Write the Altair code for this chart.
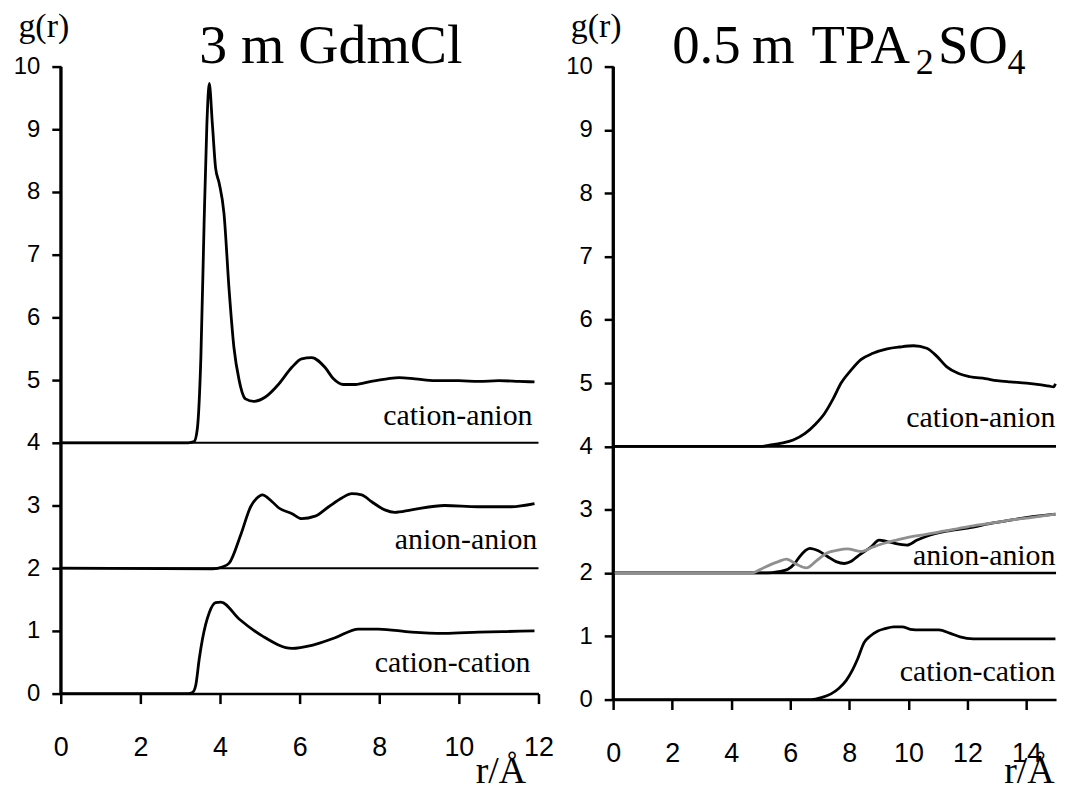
import altair as alt
import pandas as pd

# ---------------- Left panel: 3 m GdmCl ----------------
L_ca_r = [0, 3.2, 3.35, 3.43, 3.52, 3.6, 3.67, 3.73, 3.81, 3.89, 3.98, 4.1, 4.23, 4.35, 4.48, 4.64, 4.85, 5.14, 5.48, 5.8, 6.05, 6.3, 6.64, 6.85, 7.1, 7.4, 7.8, 8.2, 8.5, 8.9, 9.4, 10.0, 10.5, 11.0, 11.5, 11.9]
L_ca_g = [4, 4.0, 4.02, 4.22, 5.37, 7.48, 9.07, 9.73, 9.07, 8.38, 8.14, 7.66, 6.43, 5.52, 5.0, 4.7, 4.66, 4.73, 4.94, 5.2, 5.34, 5.36, 5.2, 5.02, 4.93, 4.93, 4.98, 5.02, 5.04, 5.02, 4.99, 4.99, 4.98, 4.99, 4.98, 4.97]

L_aa_r = [0, 3.81, 4.06, 4.23, 4.52, 4.77, 4.93, 5.06, 5.31, 5.48, 5.81, 6.05, 6.39, 6.73, 7.06, 7.31, 7.56, 7.81, 8.14, 8.39, 8.81, 9.64, 10.48, 11.31, 11.9]
L_aa_g = [2, 1.99, 2.02, 2.08, 2.53, 2.98, 3.12, 3.17, 3.06, 2.96, 2.87, 2.79, 2.83, 2.98, 3.12, 3.19, 3.17, 3.06, 2.93, 2.89, 2.93, 3.0, 2.98, 2.98, 3.03]

L_cc_r = [0, 3.2, 3.31, 3.39, 3.48, 3.56, 3.73, 3.89, 4.02, 4.48, 5.06, 5.81, 6.31, 6.89, 7.48, 7.98, 8.81, 9.64, 10.5, 11.2, 11.9]
L_cc_g = [0, 0.0, 0.02, 0.13, 0.56, 0.87, 1.29, 1.45, 1.46, 1.19, 0.92, 0.72, 0.77, 0.89, 1.03, 1.03, 0.98, 0.96, 0.98, 0.99, 1.0]

# ---------------- Right panel: 0.5 m TPA2SO4 ----------------
R_ca_r = [0, 5.0, 5.3, 5.7, 6.1, 6.49, 6.85, 7.16, 7.45, 7.72, 8.05, 8.39, 8.8, 9.28, 9.7, 10.18, 10.62, 10.95, 11.29, 11.7, 12.09, 12.6, 13.0, 13.44, 14.0, 14.5, 14.78, 14.92, 14.98]
R_ca_g = [4, 4.0, 4.02, 4.05, 4.1, 4.2, 4.35, 4.52, 4.75, 5.0, 5.2, 5.37, 5.47, 5.54, 5.57, 5.59, 5.55, 5.43, 5.26, 5.15, 5.1, 5.07, 5.04, 5.02, 5.0, 4.97, 4.95, 4.94, 4.99]

R_aa1_r = [0, 5.24, 5.6, 5.92, 6.15, 6.32, 6.5, 6.66, 6.95, 7.26, 7.55, 7.83, 8.05, 8.27, 8.73, 9.01, 9.25, 9.51, 9.95, 10.3, 10.62, 11.29, 12.0, 12.87, 13.5, 14.2, 14.98]
R_aa1_g = [2, 2.0, 2.02, 2.06, 2.15, 2.26, 2.35, 2.39, 2.35, 2.26, 2.18, 2.15, 2.18, 2.26, 2.41, 2.52, 2.5, 2.47, 2.44, 2.52, 2.58, 2.66, 2.71, 2.79, 2.84, 2.89, 2.93]

R_aa2_r = [0, 4.7, 5.0, 5.37, 5.6, 5.87, 6.2, 6.54, 6.9, 7.26, 7.6, 7.93, 8.39, 8.8, 9.18, 9.6, 10.07, 10.6, 11.19, 12.0, 12.87, 13.5, 14.2, 14.98]
R_aa2_g = [2, 2.0, 2.06, 2.14, 2.18, 2.22, 2.14, 2.08, 2.2, 2.32, 2.36, 2.38, 2.34, 2.41, 2.47, 2.52, 2.57, 2.61, 2.66, 2.73, 2.79, 2.84, 2.88, 2.93]

R_cc_r = [0, 6.71, 7.05, 7.38, 7.65, 7.89, 8.1, 8.28, 8.5, 8.7, 8.95, 9.2, 9.51, 9.79, 10.07, 10.41, 11.03, 11.4, 11.75, 12.2, 13.0, 14.0, 14.98]
R_cc_g = [0, 0.0, 0.03, 0.09, 0.18, 0.3, 0.46, 0.64, 0.9, 1.0, 1.08, 1.12, 1.15, 1.15, 1.11, 1.1, 1.1, 1.05, 0.99, 0.96, 0.96, 0.96, 0.96]

pair_labels = ["cation-anion", "anion-anion", "cation-cation"]
L_label_x = [11.85, 11.97, 11.8]
L_label_y = [4.29, 2.31, 0.35]
R_label_x = [14.98, 14.98, 14.98]
R_label_y = [4.31, 2.13, 0.30]

# title pieces (text, x in data units, baseline y in data units, font size)
L_title = {"t": ["3 m GdmCl"], "x": [3.48], "y": [10.05], "fs": [56]}
R_title = {"t": ["0.5", "m", "TPA", "2", "SO", "4"],
           "x": [2.0, 4.7, 6.72, 10.25, 11.0, 13.36],
           "y": [10.06, 10.06, 10.06, 9.88, 10.06, 9.88],
           "fs": [55, 55, 55, 36, 55, 36]}

baselines = [4, 2]
y_ticks = list(range(0, 11))
L_x_ticks = [0, 2, 4, 6, 8, 10, 12]
R_x_ticks = [0, 2, 4, 6, 8, 10, 12, 14]

SERIF = "Liberation Serif"
SANS = "Liberation Sans"


def panel(black_parts, gray_part, xmax, width, height, xticks, lab_x, lab_y, base_widths,
          titles, rtitle_x, rtitle_y):
    xs = alt.Scale(domain=[0, xmax], nice=False, zero=False)
    ys = alt.Scale(domain=[0, 10], nice=False)
    common = dict(domain=True, domainColor="black", domainWidth=2.5, ticks=True,
                  tickColor="black", tickWidth=2.5, labelColor="black", labelFont=SANS,
                  labelFlush=False, labelOverlap=False, grid=False, format="d",
                  titleFont=SERIF, titleFontWeight="normal", titleColor="black")
    xax = alt.Axis(values=xticks, title="r/Å", titleFontSize=38,
                   titleAlign="right", titleAnchor="end", titleBaseline="alphabetic",
                   titleX=rtitle_x, titleY=rtitle_y,
                   labelFontSize=27, labelPadding=31, tickSize=10, **common)
    yax = alt.Axis(values=y_ticks, title="g(r)", titleFontSize=34,
                   titleAngle=0, titleAlign="left", titleBaseline="alphabetic",
                   titleX=-43, titleY=-30,
                   labelFontSize=24, labelPadding=12, tickSize=9, **common)

    X = lambda f: alt.X(f, scale=xs, axis=xax)
    Y = lambda f: alt.Y(f, scale=ys, axis=yax)

    bl = pd.DataFrame({"y": baselines, "x0": [0, 0], "x1": [xmax, xmax], "w": base_widths})
    rules = alt.Chart(bl).mark_rule(color="black").encode(
        x=X("x0:Q"), x2="x1:Q", y=Y("y:Q"),
        strokeWidth=alt.StrokeWidth("w:Q", scale=None),
    )
    ax = pd.DataFrame({"x": [0], "y0": [0], "y1": [10]})
    yline = alt.Chart(ax).mark_rule(color="black", strokeWidth=3).encode(
        x=X("x:Q"), y=Y("y0:Q"), y2="y1:Q")
    frames = [pd.DataFrame({"r": r, "g": g, "series": n}) for n, r, g in black_parts]
    black = alt.Chart(pd.concat(frames, ignore_index=True)).mark_line(
        strokeWidth=2.8, color="black", interpolate="monotone").encode(
        x=X("r:Q"), y=Y("g:Q"), detail="series:N", order=alt.Order("r:Q"))
    layers = [rules, black]
    if gray_part is not None:
        n, r, g = gray_part
        gray = alt.Chart(pd.DataFrame({"r": r, "g": g, "series": n})).mark_line(
            strokeWidth=2.8, color="#8f8f8f", interpolate="monotone").encode(
            x=X("r:Q"), y=Y("g:Q"), order=alt.Order("r:Q"))
        layers.append(gray)
    lab = pd.DataFrame({"t": pair_labels, "x": lab_x, "y": lab_y})
    labels = alt.Chart(lab).mark_text(font=SERIF, fontSize=30, align="right",
                                      baseline="alphabetic", color="black").encode(
        x=X("x:Q"), y=Y("y:Q"), text="t:N")
    tt = alt.Chart(pd.DataFrame(titles)).mark_text(font=SERIF, align="left",
                                                  baseline="alphabetic", color="black").encode(
        x=X("x:Q"), y=Y("y:Q"), text="t:N", size=alt.Size("fs:Q", scale=None))
    layers += [labels, tt, yline]
    return alt.layer(*layers).properties(width=width, height=height)


left = panel(
    [("cation-anion", L_ca_r, L_ca_g), ("anion-anion", L_aa_r, L_aa_g), ("cation-cation", L_cc_r, L_cc_g)],
    None, 12, 480, 630, L_x_ticks, L_label_x, L_label_y, [2, 2],
    L_title, 467, 89,
)
right = panel(
    [("cation-anion", R_ca_r, R_ca_g), ("anion-anion A", R_aa1_r, R_aa1_g),
     ("cation-cation", R_cc_r, R_cc_g)],
    ("anion-anion B", R_aa2_r, R_aa2_g),
    15, 445, 636, R_x_ticks, R_label_x, R_label_y, [3, 2.5],
    R_title, 443, 83,
)

chart = alt.hconcat(left, right, spacing=75, bounds="flush").configure_view(
    stroke=None
).properties(padding={"left": 5, "top": 0, "right": 0, "bottom": 0})

chart.save("out.html", embed_options={"renderer": "svg", "actions": False})
